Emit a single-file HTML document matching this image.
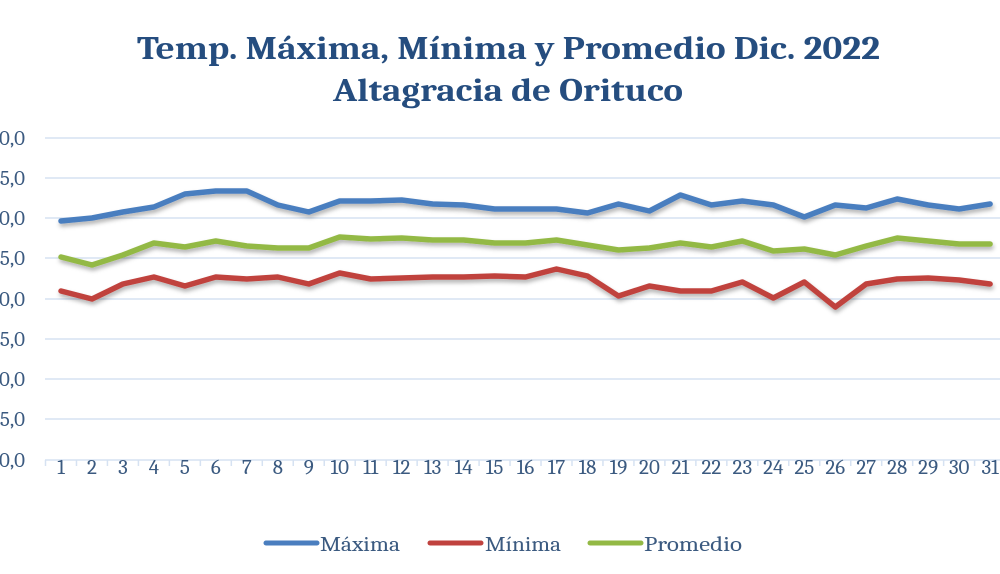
<!DOCTYPE html>
<html><head><meta charset="utf-8"><style>body{margin:0;background:#fff}svg{display:block}</style></head>
<body><svg width="1000" height="574" xmlns="http://www.w3.org/2000/svg" font-family="Cambria, 'Liberation Serif', serif">
<defs><filter id="sh" x="-5%" y="-50%" width="110%" height="200%"><feDropShadow dx="1" dy="3" stdDeviation="2" flood-color="#000" flood-opacity="0.3"/></filter></defs>
<text x="137" y="59" textLength="743" lengthAdjust="spacingAndGlyphs" font-size="32" font-weight="bold" fill="#254d7f">Temp. Máxima, Mínima y Promedio Dic. 2022</text>
<text x="333" y="101" textLength="350" lengthAdjust="spacingAndGlyphs" font-size="32" font-weight="bold" fill="#254d7f">Altagracia de Orituco</text>
<g stroke="#d6e2f2" stroke-width="1.5">
<line x1="45" x2="1000" y1="138" y2="138"/><line x1="45" x2="1000" y1="178" y2="178"/><line x1="45" x2="1000" y1="218" y2="218"/><line x1="45" x2="1000" y1="258" y2="258"/><line x1="45" x2="1000" y1="299" y2="299"/><line x1="45" x2="1000" y1="339" y2="339"/><line x1="45" x2="1000" y1="379" y2="379"/><line x1="45" x2="1000" y1="419" y2="419"/><line x1="45" x2="1000" y1="460" y2="460"/>
</g>
<g stroke="#d6e2f2" stroke-width="1.5" id="ticks"></g>
<g font-size="21" fill="#3b5a80" text-anchor="end">
<text x="25" y="145">40,0</text><text x="25" y="185">35,0</text><text x="25" y="225">30,0</text><text x="25" y="265">25,0</text><text x="25" y="306">20,0</text><text x="25" y="346">15,0</text><text x="25" y="386">10,0</text><text x="25" y="426">5,0</text><text x="25" y="467">0,0</text>
</g>
<g font-size="21" fill="#3b5a80" text-anchor="middle" id="xl"></g>
<g fill="none" stroke-width="5.5" stroke-linejoin="round" stroke-linecap="round" filter="url(#sh)">
<polyline id="mx" stroke="#4a7ebf"/><polyline id="mn" stroke="#c0423e"/><polyline id="pr" stroke="#93b945"/>
</g>
<g stroke-width="5" stroke-linecap="round">
<line x1="266" x2="317" y1="543" y2="543" stroke="#4a7ebf"/>
<line x1="430" x2="481" y1="543" y2="543" stroke="#c0423e"/>
<line x1="590" x2="641" y1="543" y2="543" stroke="#93b945"/>
</g>
<g font-size="21" fill="#3b5a80">
<text x="320" y="551" textLength="80" lengthAdjust="spacingAndGlyphs">Máxima</text><text x="485" y="551" textLength="76" lengthAdjust="spacingAndGlyphs">Mínima</text><text x="644" y="551" textLength="98" lengthAdjust="spacingAndGlyphs">Promedio</text>
</g>
<script>
var mx=[221,218,212,207,194,191,191,205,212,201,201,200,204,205,209,209,209,213,204,211,195,205,201,205,217,205,208,199,205,209,204];
var pr=[257,265,255,243,247,241,246,248,248,237,239,238,240,240,243,243,240,245,250,248,243,247,241,251,249,255,246,238,241,244,244];
var mn=[291,299,284,277,286,277,279,277,284,273,279,278,277,277,276,277,269,276,296,286,291,291,282,298,282,307,284,279,278,280,284];
function X(i){return 61+i*30.97;}
function pts(a){return a.map(function(v,i){return X(i).toFixed(1)+','+v}).join(' ');}
document.getElementById('mx').setAttribute('points',pts(mx));
document.getElementById('mn').setAttribute('points',pts(mn));
document.getElementById('pr').setAttribute('points',pts(pr));
var ns='http://www.w3.org/2000/svg',xl=document.getElementById('xl'),tk=document.getElementById('ticks');
for(var i=0;i<31;i++){var t=document.createElementNS(ns,'text');t.setAttribute('x',X(i));t.setAttribute('y',474);t.textContent=i+1;xl.appendChild(t);
var l=document.createElementNS(ns,'line');var x=X(i)-15.5;l.setAttribute('x1',x);l.setAttribute('x2',x);l.setAttribute('y1',460);l.setAttribute('y2',466);tk.appendChild(l);}
</script>
</svg></body></html>
